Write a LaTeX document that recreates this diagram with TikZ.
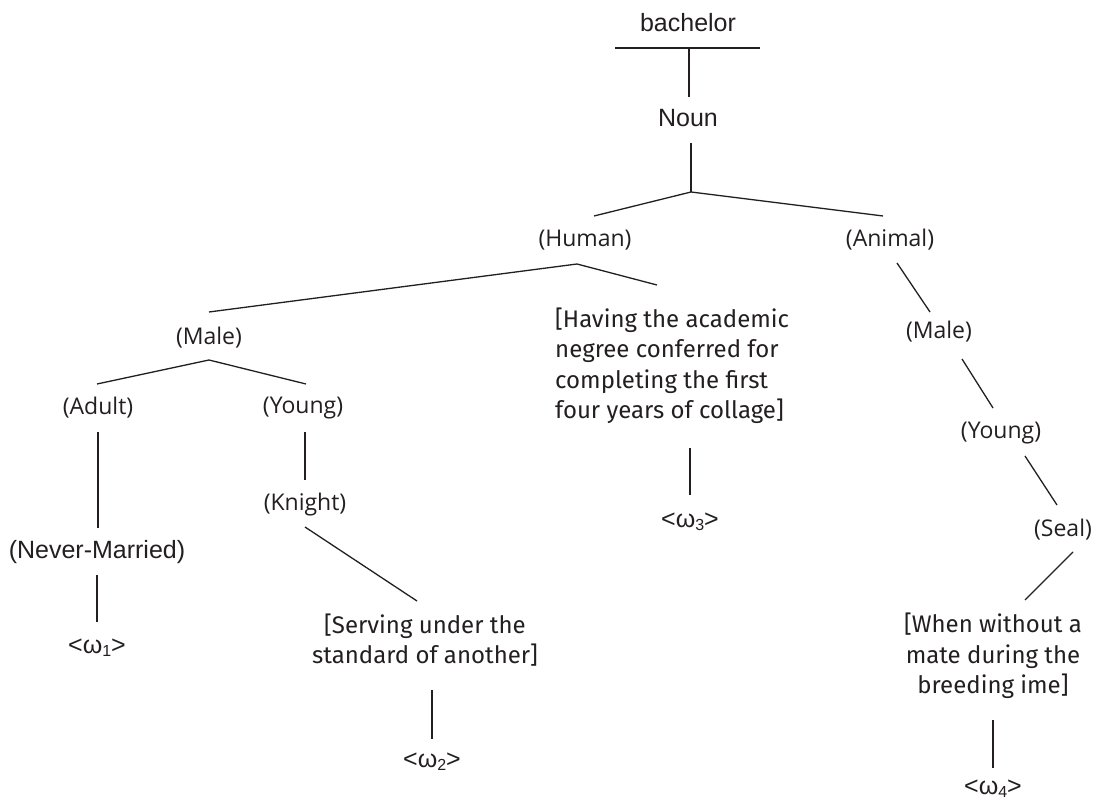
\documentclass[tikz,border=0pt]{standalone}
\usepackage{fontspec}
\setmainfont{Liberation Sans}
\newfontfamily\labfont{Open Sans}
\newfontfamily\glossfont{Fira Sans}
\definecolor{ink}{HTML}{231F20}
\newcommand{\om}[1]{<ω\raisebox{-0.25ex}{\fontsize{16}{16}\selectfont #1}>}
\begin{document}
\begin{tikzpicture}[x=1pt,y=-1pt,
  ar/.style={font=\fontsize{25}{30}\selectfont, text=ink, inner sep=0pt},
  lab/.style={font=\labfont\fontsize{23}{28}\selectfont, text=ink, inner sep=0pt},
  gloss/.style={font=\glossfont\fontsize{24}{30.5}\selectfont, text=ink, inner sep=0pt},
  ln/.style={line width=1.3pt, draw=ink}]
\useasboundingbox (0,0) rectangle (1101,802);
% text nodes
\node[ar]  (bach)   at (688,23)  {bachelor};
\node[ar]  (noun)   at (688,118) {Noun};
\node[lab] (human)  at (585,240) {(Human)};
\node[lab] (animal) at (890,240) {(Animal)};
\node[lab] (maleA)  at (209,338) {(Male)};
\node[lab] (adult)  at (98,408)  {(Adult)};
\node[lab] (youngA) at (303,408) {(Young)};
\node[ar]  (never)  at (97,552)  {(Never-Married)};
\node[ar]  (w1)     at (97,648)  {\om{1}};
\node[lab] (knight) at (305,505) {(Knight)};
\node[gloss, align=center] (serve) at (425,640) {[Serving under the\\standard of another]};
\node[ar]  (w2)     at (432,762) {\om{2}};
\node[gloss, align=left, anchor=west] (having) at (555,366) {[Having the academic\\negree conferred for\\completing the first\\four years of collage]};
\node[ar]  (w3)     at (690,522) {\om{3}};
\node[lab] (maleB)  at (939,332) {(Male)};
\node[lab] (youngB) at (1001,433) {(Young)};
\node[lab] (seal)   at (1063,530) {(Seal)};
\node[gloss, align=center] (when) at (993,656) {[When without a\\mate during the\\breeding ime]};
\node[ar]  (w4)     at (993,789) {\om{4}};
% joints and line ends
\coordinate (barL) at (615,48);  \coordinate (barR) at (760,48);
\coordinate (barM) at (689,48);  \coordinate (nounT) at (689,97);
\coordinate (nounB) at (691,143); \coordinate (nounJ) at (691,192);
\coordinate (humanT) at (594,216); \coordinate (animalT) at (883,216);
\coordinate (maleAT) at (209,312); \coordinate (humanJ) at (577,264); \coordinate (havingT) at (657,285);
\coordinate (adultT) at (97,384); \coordinate (maleAJ) at (209,360); \coordinate (youngAT) at (306,384);
\coordinate (adultB) at (98,432); \coordinate (neverT) at (98,528);
\coordinate (neverB) at (97,575); \coordinate (w1T) at (97,622);
\coordinate (youngAB) at (305,432); \coordinate (knightT) at (305,480);
\coordinate (knightB) at (305,527); \coordinate (serveT) at (417,601);
\coordinate (serveB) at (432,690); \coordinate (w2T) at (432,739);
\coordinate (havingB) at (690,448); \coordinate (w3T) at (690,495);
\coordinate (animalB) at (897,263); \coordinate (maleBT) at (930,312);
\coordinate (maleBB) at (962,359); \coordinate (youngBT) at (993,408);
\coordinate (youngBB) at (1025,456); \coordinate (sealT) at (1057,505);
\coordinate (sealB) at (1073,552); \coordinate (whenT) at (1025,600);
\coordinate (whenB) at (993,720); \coordinate (w4T) at (993,768);
% connectors
\draw[ln] (barL) -- (barR);
\draw[ln] (barM) -- (nounT);
\draw[ln] (nounB) -- (nounJ);
\draw[ln] (humanT) -- (nounJ) -- (animalT);
\draw[ln] (maleAT) -- (humanJ) -- (havingT);
\draw[ln] (adultT) -- (maleAJ) -- (youngAT);
\draw[ln] (adultB) -- (neverT);
\draw[ln] (neverB) -- (w1T);
\draw[ln] (youngAB) -- (knightT);
\draw[ln] (knightB) -- (serveT);
\draw[ln] (serveB) -- (w2T);
\draw[ln] (havingB) -- (w3T);
\draw[ln] (animalB) -- (maleBT);
\draw[ln] (maleBB) -- (youngBT);
\draw[ln] (youngBB) -- (sealT);
\draw[ln] (sealB) -- (whenT);
\draw[ln] (whenB) -- (w4T);
\end{tikzpicture}
\end{document}
